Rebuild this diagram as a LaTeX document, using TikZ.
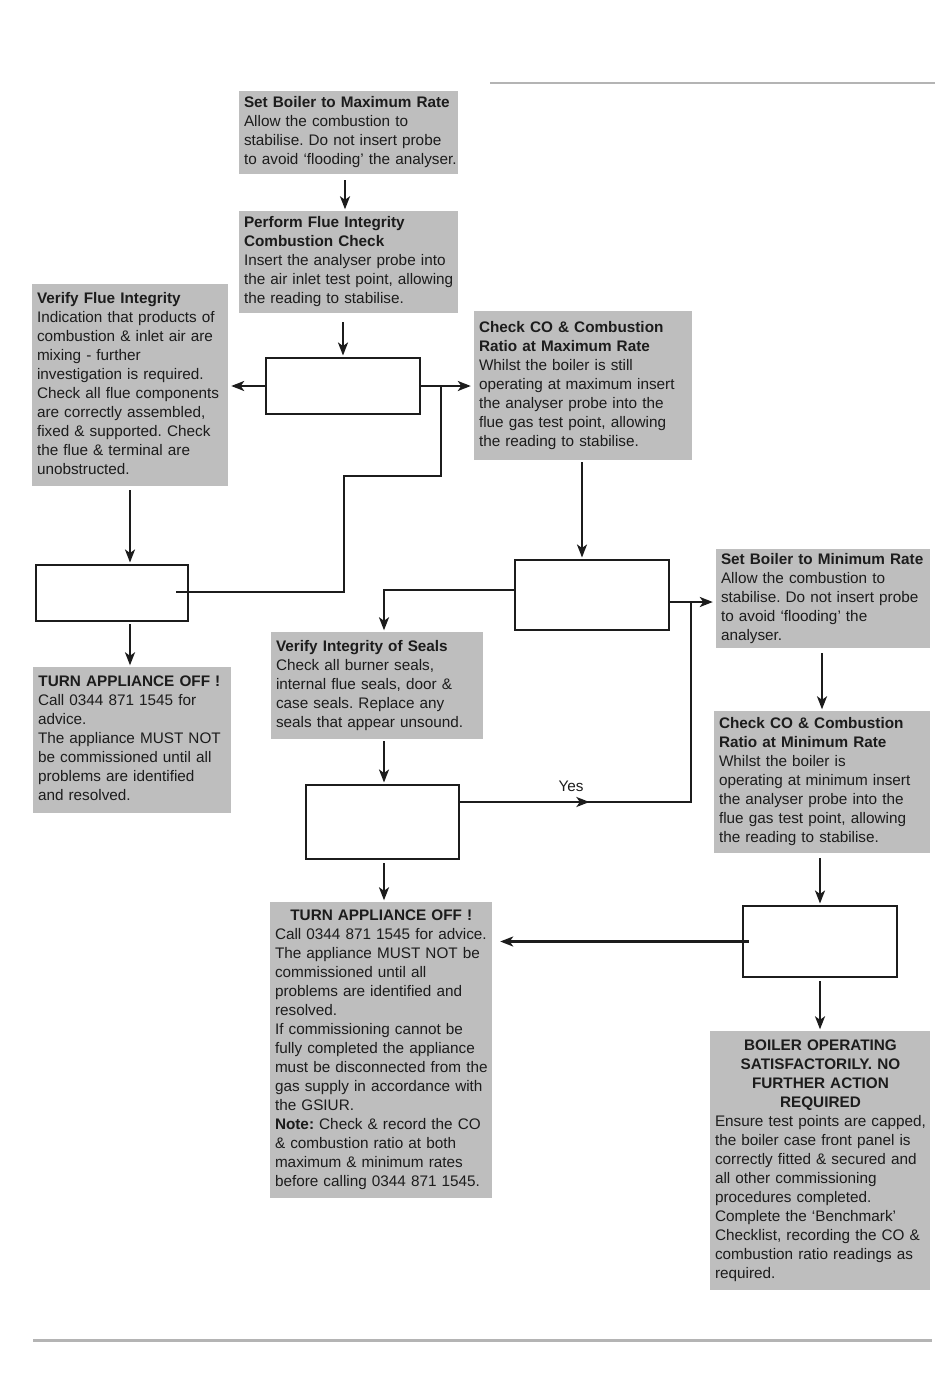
\documentclass[tikz,border=0pt]{standalone}
\usepackage{fontspec}
\setmainfont{Liberation Sans}
\usetikzlibrary{arrows.meta,calc}
\definecolor{boxgray}{RGB}{190,190,190}
\definecolor{ink}{RGB}{28,28,28}
\definecolor{rulegray}{RGB}{180,180,180}
\newcommand{\ctitle}[1]{\multicolumn{1}{@{}c@{}}{\textbf{#1}}}
\frenchspacing
\begin{document}
\begin{tikzpicture}[x=1pt,y=-1pt,
  txt/.style={fill=boxgray, text=ink, inner xsep=5pt, inner ysep=0pt, align=left,
    font=\fontsize{15.3}{19}\selectfont\frenchspacing},
  dec/.style={draw=ink, line width=2pt, fill=white, inner sep=0pt},
  ln/.style={draw=ink, line width=2.2pt},
  arr/.style={draw=ink, line width=2.2pt, shorten >=1.5pt, -{Stealth[length=13pt,width=10pt,inset=3.5pt]}},
  lbl/.style={text=ink, inner sep=0pt, font=\fontsize{15.3}{19}\selectfont}]
\useasboundingbox (0,0) rectangle (950,1378);

% rules
\draw[rulegray, line width=2pt] (490,83) -- (935,83);
\draw[rulegray, line width=3pt] (33,1340) -- (932,1340);

% text boxes
\node[txt, minimum width=219pt, minimum height=83pt, text width=209pt] (A) at (348.5,132.5)
{\begin{tabular}{@{}l@{}}\textbf{Set Boiler to Maximum Rate}\\ Allow the combustion to\\ stabilise. Do not insert probe\\ to avoid ‘flooding’ the analyser.\end{tabular}};

\node[txt, minimum width=219pt, minimum height=102pt, text width=209pt] (B) at (348.5,262)
{\begin{tabular}{@{}l@{}}\textbf{Perform Flue Integrity}\\ \textbf{Combustion Check}\\ Insert the analyser probe into\\ the air inlet test point, allowing\\ the reading to stabilise.\end{tabular}};

\node[txt, minimum width=196pt, minimum height=202pt, text width=186pt] (C) at (130,385)
{\begin{tabular}{@{}l@{}}\textbf{Verify Flue Integrity}\\ Indication that products of\\ combustion \& inlet air are\\ mixing - further\\ investigation is required.\\ Check all flue components\\ are correctly assembled,\\ fixed \& supported. Check\\ the flue \& terminal are\\ unobstructed.\end{tabular}};

\node[txt, minimum width=218pt, minimum height=149pt, text width=208pt] (E) at (583,385.5)
{\begin{tabular}{@{}l@{}}\textbf{Check CO \& Combustion}\\ \textbf{Ratio at Maximum Rate}\\ Whilst the boiler is still\\ operating at maximum insert\\ the analyser probe into the\\ flue gas test point, allowing\\ the reading to stabilise.\end{tabular}};

\node[txt, minimum width=198pt, minimum height=146pt, text width=188pt] (F) at (132,740)
{\begin{tabular}{@{}l@{}}\ctitle{TURN APPLIANCE OFF !}\\ Call 0344 871 1545 for\\ advice.\\ The appliance MUST NOT\\ be commissioned until all\\ problems are identified\\ and resolved.\end{tabular}};

\node[txt, minimum width=212pt, minimum height=107pt, text width=202pt] (G) at (377,685.5)
{\begin{tabular}{@{}l@{}}\textbf{Verify Integrity of Seals}\\ Check all burner seals,\\ internal flue seals, door \&\\ case seals. Replace any\\ seals that appear unsound.\end{tabular}};

\node[txt, minimum width=214pt, minimum height=99pt, text width=204pt] (H) at (823,598.5)
{\begin{tabular}{@{}l@{}}\textbf{Set Boiler to Minimum Rate}\\ Allow the combustion to\\ stabilise. Do not insert probe\\ to avoid ‘flooding’ the\\ analyser.\end{tabular}};

\node[txt, minimum width=216pt, minimum height=142pt, text width=206pt] (J) at (822,782)
{\begin{tabular}{@{}l@{}}\textbf{Check CO \& Combustion}\\ \textbf{Ratio at Minimum Rate}\\ Whilst the boiler is\\ operating at minimum insert\\ the analyser probe into the\\ flue gas test point, allowing\\ the reading to stabilise.\end{tabular}};

\node[txt, minimum width=222pt, minimum height=296pt, text width=212pt] (I) at (381,1050)
{\begin{tabular}{@{}l@{}}\ctitle{TURN APPLIANCE OFF !}\\ Call 0344 871 1545 for advice.\\ The appliance MUST NOT be\\ commissioned until all\\ problems are identified and\\ resolved.\\ If commissioning cannot be\\ fully completed the appliance\\ must be disconnected from the\\ gas supply in accordance with\\ the GSIUR.\\ \textbf{Note:} Check \& record the CO\\ \& combustion ratio at both\\ maximum \& minimum rates\\ before calling 0344 871 1545.\end{tabular}};

\node[txt, minimum width=220pt, minimum height=259pt, text width=210pt] (K) at (820,1160.5)
{\begin{tabular}{@{}l@{}}\ctitle{BOILER OPERATING}\\ \ctitle{SATISFACTORILY. NO}\\ \ctitle{FURTHER ACTION}\\ \ctitle{REQUIRED}\\ Ensure test points are capped,\\ the boiler case front panel is\\ correctly fitted \& secured and\\ all other commissioning\\ procedures completed.\\ Complete the ‘Benchmark’\\ Checklist, recording the CO \&\\ combustion ratio readings as\\ required.\end{tabular}};

% decision boxes (empty)
\node[dec, minimum width=154pt, minimum height=56pt] (D1) at (343,386) {};
\node[dec, minimum width=152pt, minimum height=56pt] (D2) at (112,593) {};
\node[dec, minimum width=154pt, minimum height=70pt] (D3) at (592,595) {};
\node[dec, minimum width=153pt, minimum height=74pt] (D4) at (382.5,822) {};
\node[dec, minimum width=154pt, minimum height=71pt] (D5) at (820,941.5) {};

% helper coordinates
\coordinate (a1) at ($(A.south)+(-3.5,6)$);
\coordinate (b1) at (B.south -| D1.north);
\coordinate (j1) at ($(D1.east)+(20,0)$);
\coordinate (k1) at (344,476);
\coordinate (e2) at ($(D2.east)+(-13,-1)$);
\coordinate (c1) at ($(C.south)+(0,4)$);
\coordinate (c2) at (c1 |- D2.south);
\coordinate (e1) at ($(E.south)+(-1,2)$);
\coordinate (d3l) at ($(D3.west)+(0,-5)$);
\coordinate (g1) at ($(G.north)+(7,0)$);
\coordinate (d3r) at ($(D3.east)+(0,7)$);
\coordinate (j2) at ($(d3r)+(21,0)$);
\coordinate (d4r) at ($(D4.east)+(0,-20)$);
\coordinate (y2) at (d4r -| j2);
\coordinate (g2) at ($(G.south)+(7,2)$);
\coordinate (g3) at (g2 |- D4.south);
\coordinate (h1) at ($(H.south)+(-1,5)$);
\coordinate (jj) at ($(J.south)+(-2,5)$);
\coordinate (d5l) at ($(D5.west)+(7,0)$);
\coordinate (k2) at ($(D5.south)+(0,3)$);

% connectors
\draw[arr] (a1) -- (a1 |- B.north);
\draw[arr] ($(b1)+(0,9)$) -- (D1.north);
\draw[arr, shorten >=3pt] (D1.west) -- (D1.west -| C.east);
\draw[arr, shorten >=3pt] (D1.east) -- (D1.east -| E.west);
\draw[ln] (j1) |- (k1) |- (e2);
\draw[arr] (c1) -- (c1 |- D2.north);
\draw[arr] ($(c2)+(0,2)$) -- (c2 |- F.north);
\draw[arr] (e1) -- (e1 |- D3.north);
\draw[arr] (d3l) -| (g1);
\draw[arr, shorten >=3pt] (d3r) -- (d3r -| H.west);
\draw[ln] (d4r) -| (j2);
\draw[arr, shorten >=0pt] (d4r) -- ($(d4r)!0.56!(y2)$);
\node[lbl] (yes) at (571,786) {Yes};
\draw[arr] (g2) -- (g2 |- D4.north);
\draw[arr] ($(g3)+(0,3)$) -- (g3 |- I.north);
\draw[arr] (h1) -- (h1 |- J.north);
\draw[arr] (jj) -- (jj |- D5.north);
\draw[arr, shorten >=8pt] (d5l) -- (d5l -| I.east);
\draw[arr] (k2) -- (K.north);
\end{tikzpicture}
\end{document}
